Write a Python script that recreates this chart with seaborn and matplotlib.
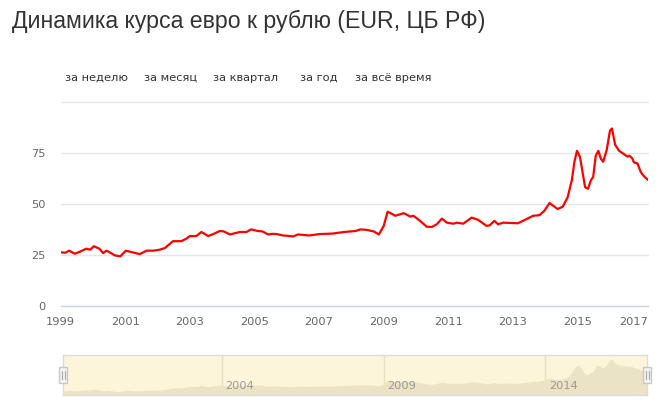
import matplotlib
matplotlib.use("Agg")
import matplotlib.pyplot as plt
import matplotlib.transforms as mtransforms
from matplotlib.patches import Rectangle
import seaborn as sns
import numpy as np
import pandas as pd

# EUR/RUB rate (CBR)
years = [1999.00, 1999.15, 1999.27, 1999.44, 1999.60, 1999.80, 1999.92, 2000.03, 2000.20, 2000.32,
         2000.42, 2000.52, 2000.68, 2000.85, 2001.02, 2001.20, 2001.45, 2001.66, 2001.87, 2002.07,
         2002.23, 2002.48, 2002.74, 2002.90, 2003.00, 2003.20, 2003.36, 2003.57, 2003.77, 2003.93,
         2004.05, 2004.24, 2004.55, 2004.75, 2004.90, 2005.10, 2005.25, 2005.42, 2005.55, 2005.68,
         2005.88, 2006.10, 2006.20, 2006.35, 2006.70, 2007.02, 2007.40, 2007.77, 2008.13, 2008.28,
         2008.49, 2008.69, 2008.85, 2009.00, 2009.12, 2009.36, 2009.62, 2009.82, 2009.92, 2010.10,
         2010.33, 2010.49, 2010.64, 2010.80, 2010.95, 2011.15, 2011.26, 2011.46, 2011.72, 2011.92,
         2012.18, 2012.28, 2012.42, 2012.54, 2012.69, 2013.15, 2013.41, 2013.62, 2013.82, 2013.97,
         2014.13, 2014.38, 2014.54, 2014.69, 2014.82, 2014.90, 2014.98, 2015.07, 2015.15, 2015.23,
         2015.32, 2015.41, 2015.48, 2015.56, 2015.64, 2015.72, 2015.79, 2015.90, 2016.00, 2016.06,
         2016.16, 2016.28, 2016.44, 2016.54, 2016.60, 2016.69, 2016.74, 2016.85, 2016.95, 2017.05,
         2017.18]
eur_rub = [26.2, 26.0, 27.0, 25.5, 26.5, 28.0, 27.5, 29.2, 28.0, 25.8,
           27.0, 26.2, 24.7, 24.2, 27.0, 26.3, 25.3, 27.0, 27.0, 27.5,
           28.3, 31.7, 31.7, 33.0, 34.2, 34.2, 36.2, 34.2, 35.5, 36.7,
           36.5, 35.0, 36.2, 36.2, 37.5, 36.7, 36.5, 35.0, 35.3, 35.2,
           34.5, 34.2, 34.0, 35.0, 34.5, 35.2, 35.4, 36.2, 36.7, 37.5,
           37.2, 36.5, 35.0, 39.2, 46.2, 44.2, 45.5, 43.8, 44.2, 42.0,
           38.8, 38.7, 40.0, 42.8, 40.8, 40.3, 40.8, 40.3, 43.3, 42.2,
           39.2, 39.5, 41.7, 40.0, 40.8, 40.5, 42.5, 44.2, 44.5, 46.7,
           50.5, 47.5, 48.7, 53.3, 61.7, 70.8, 76.2, 73.3, 65.8, 58.3,
           57.5, 61.7, 63.3, 73.8, 76.2, 72.2, 70.8, 76.7, 86.2, 87.2,
           79.2, 76.2, 74.5, 73.3, 73.8, 72.5, 70.5, 70.0, 65.8, 63.7,
           61.8]

x_ticks = [1999, 2001, 2003, 2005, 2007, 2009, 2011, 2013, 2015, 2017]
y_ticks = [0, 25, 50, 75, 100]
y_labels = ["0", "25", "50", "75", ""]
nav_ticks = [2004, 2009, 2014]
buttons = ["за неделю", "за месяц", "за квартал", "за год", "за всё время"]
button_x = [65, 144, 213, 300, 355]

title = "Динамика курса евро к рублю (EUR, ЦБ РФ)"

df = pd.DataFrame({"year": years, "rate": eur_rub})

sns.set_style("white")
plt.rcParams["font.family"] = ["DejaVu Sans"]

W, H = 670, 409
fig = plt.figure(figsize=(W / 100, H / 100), dpi=100)


def fx(px):
    return px / W


def fy(py):
    return 1 - py / H


# main chart
x0, x1 = 60.5, 648.0
px_per_year = (642.3 - 60.5) / 18
xlim = (1999.0, 1999.0 + (x1 - x0) / px_per_year)
ax = fig.add_axes([fx(x0), fy(305.5), fx(x1 - x0), (305.5 - 102.5) / H])
sns.lineplot(data=df, x="year", y="rate", ax=ax, color="#ff0000", linewidth=1.6)
ax.set_xlim(*xlim)
ax.set_ylim(0, 100)
ax.set_xlabel("")
ax.set_ylabel("")
ax.set_yticks(y_ticks)
ax.set_yticklabels(y_labels)
ax.set_xticks(x_ticks)
ax.set_xticklabels([str(t) for t in x_ticks])
ax.grid(axis="y", color="#e6e6e6", linewidth=1)
ax.grid(axis="x", visible=False)
for gl in ax.get_ygridlines():
    gl.set_clip_on(False)
for s in ["top", "right", "left"]:
    ax.spines[s].set_visible(False)
ax.spines["bottom"].set_color("#ccd6eb")
ax.spines["bottom"].set_linewidth(1)
ax.spines["bottom"].set_zorder(3)
ax.tick_params(axis="y", length=0, pad=11, labelsize=8.2, labelcolor="#666666")
ax.tick_params(axis="x", length=6.5, width=1, color="#ccd6eb", direction="out",
               pad=1.5, labelsize=8.2, labelcolor="#666666")
# last label justified inside the plot area, like the original
last = ax.get_xticklabels()[-1]
last.set_horizontalalignment("right")
last.set_transform(last.get_transform() + mtransforms.ScaledTranslation(6 / 100, 0, fig.dpi_scale_trans))

# navigator
n0, n1 = 63.3, 647.3
nav_xlim = (1999.0 + (n0 - x0) / px_per_year, 1999.0 + (n1 - x0) / px_per_year)
nav = fig.add_axes([fx(n0), fy(395), fx(n1 - n0), 40 / H])
nav.set_facecolor("#fcf5d9")
nav.fill_between(df["year"], df["rate"], 0, color="#ebe3c5", linewidth=0)
nav.set_xlim(*nav_xlim)
nav.set_ylim(17.7, 95.4)
nav.set_yticks([])
nav.set_xticks(nav_ticks)
nav.set_xticklabels([])
nav.tick_params(length=0)
nav.grid(axis="x", color="#e6dfc4", linewidth=1)
nav.grid(axis="y", visible=False)
for s in nav.spines.values():
    s.set_color("#dcdcdc")
    s.set_linewidth(1)
lab_tr = nav.get_xaxis_transform() + mtransforms.ScaledTranslation(3.5 / 100, 0, fig.dpi_scale_trans)
for t in nav_ticks:
    nav.text(t, 0.22, str(t), transform=lab_tr, ha="left", va="center",
             fontsize=8.2, color="#999999")

# navigator handles
for hx in [n0, n1]:
    fig.patches.append(Rectangle((fx(hx - 4), fy(383)), fx(8), 16 / H, transform=fig.transFigure,
                                 facecolor="#f2f2f2", edgecolor="#c8c8c8", linewidth=1, zorder=5))
    for dx in [-1.2, 1.2]:
        fig.lines.append(plt.Line2D([fx(hx + dx), fx(hx + dx)], [fy(379), fy(371)],
                                    transform=fig.transFigure, color="#aaaaaa", linewidth=0.8, zorder=6))

# title and range buttons
fig.text(fx(12), fy(21), title, fontsize=16.65, color="#333333", family=["Liberation Sans"],
         ha="left", va="center")
for label, bx in zip(buttons, button_x):
    fig.text(fx(bx), fy(78), label, fontsize=8.2, color="#333333", ha="left", va="center")

fig.savefig("out.png", dpi=100)
